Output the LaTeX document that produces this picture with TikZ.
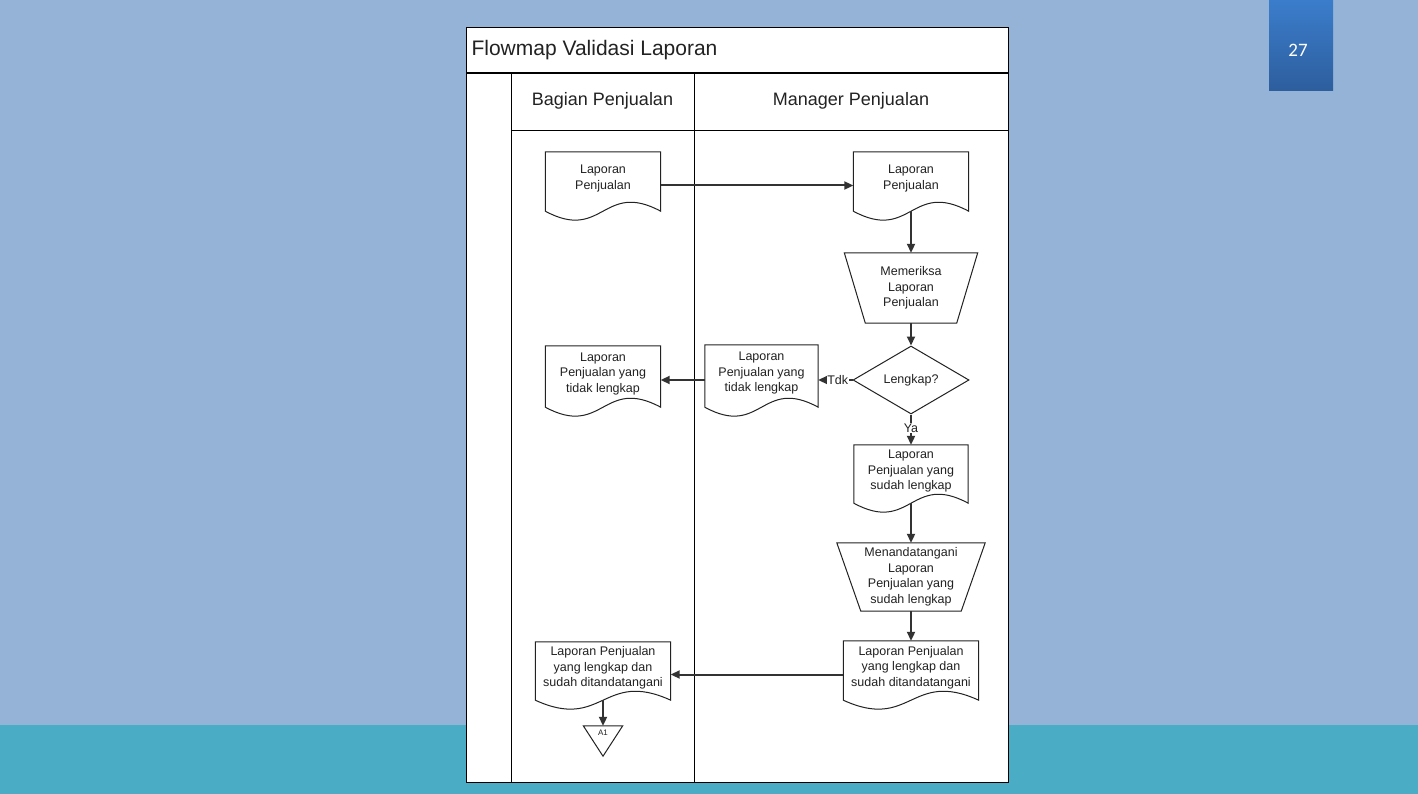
\documentclass[tikz,border=0pt]{standalone}
\usepackage{fontspec}
\setmainfont{Liberation Sans}
\newfontfamily\calib{Carlito}
\usetikzlibrary{shapes.geometric,arrows.meta,calc}
\definecolor{bgblue}{HTML}{95B3D7}
\definecolor{bandteal}{HTML}{4BACC6}
\definecolor{pgtop}{HTML}{3B7DCB}
\definecolor{pgbot}{HTML}{2D5E9E}
\definecolor{ink}{HTML}{222222}
\definecolor{arrowgrey}{HTML}{333333}
\tikzset{
 lane/.style={draw=black, line width=0.9pt},
 shapeline/.style={draw=ink, line width=1pt},
 doctext/.style={align=center, font=\fontsize{12.5}{15.5}\selectfont, text=ink, inner sep=0pt},
 flow/.style={draw=arrowgrey, line width=2pt, -{Triangle[length=9pt,width=8pt]}},
 holder/.style={draw=none, inner sep=0pt},
 lbl/.style={fill=white, inner sep=0.5pt, font=\fontsize{12.5}{15}\selectfont, text=ink}
}
\newcommand\docnode[6]{%
 \node[holder, minimum width=#4, minimum height=#5] (#1) at (#2,{#3+#5/2}) {};
 \draw[shapeline, fill=white] (#1.north west) -- (#1.north east) -- (#1.south east) .. controls ([yshift=31pt]#1.south) and ([yshift=-31pt]#1.south) .. (#1.south west) -- cycle;
 \node[doctext] at ([yshift=3pt]#1.center) {#6};
 \coordinate (#1w) at (#1.south);
}
\newcommand\trapnode[7]{%
 \node[holder, minimum width=#4, minimum height=#5] (#1) at (#2,{#3+#5/2}) {};
 \draw[shapeline, fill=white] (#1.north west) -- (#1.north east) -- ([xshift=-#6pt]#1.south east) -- ([xshift=#6pt]#1.south west) -- cycle;
 \node[doctext] at (#1.center) {#7};
}
\begin{document}
\begin{tikzpicture}[x=1pt,y=-1pt]
\useasboundingbox (0,0) rectangle (1418,794);
\fill[bgblue] (0,0) rectangle (1418,794);
\fill[bandteal] (0,725) rectangle (1418,794);
% page number
\shade[top color=pgtop, bottom color=pgbot] (1269,0) rectangle (1333,91);
\node[font=\calib\fontsize{19}{22}\selectfont, text=white] (pgnum) at (1298,50) {27};
% frame
\draw[lane, fill=white] (466,27) rectangle (1008,782);
\draw[black, line width=1.6pt] (466,73) -- (1008,73);
\draw[lane] (511,130) -- (1008,130);
\draw[lane] (511,73) -- (511,782);
\draw[lane] (694,73) -- (694,782);
\node[anchor=west, font=\fontsize{21}{25}\selectfont, text=ink] (title) at (468,50) {Flowmap Validasi Laporan};
\node[font=\fontsize{18}{22}\selectfont, text=ink] (h1) at (602.5,101) {Bagian Penjualan};
\node[font=\fontsize{18}{22}\selectfont, text=ink] (h2) at (851,101) {Manager Penjualan};
% shapes
\docnode{doc1}{603}{152}{115}{59}{Laporan\\Penjualan}
\docnode{doc2}{911}{152}{115}{59}{Laporan\\Penjualan}
\trapnode{trap1}{911}{253}{133}{70}{21}{Memeriksa\\Laporan\\Penjualan}
\node[diamond, shapeline, fill=white, aspect=1.7, minimum width=116, minimum height=68, doctext] (dia) at (911,380) {Lengkap?};
\docnode{doc3}{761.5}{345}{113}{62}{Laporan\\Penjualan yang\\tidak lengkap}
\docnode{doc4}{603}{346}{115}{61}{Laporan\\Penjualan yang\\tidak lengkap}
\docnode{doc5}{911}{445}{114}{58}{Laporan\\Penjualan yang\\sudah lengkap}
\trapnode{trap2}{911}{543}{148}{68}{24}{Menandatangani\\Laporan\\Penjualan yang\\sudah lengkap}
\docnode{doc6}{911}{641}{135}{59}{Laporan Penjualan\\yang lengkap dan\\sudah ditandatangani}
\docnode{doc7}{603}{642}{135}{58}{Laporan Penjualan\\yang lengkap dan\\sudah ditandatangani}
\node[holder, minimum width=39, minimum height=30] (a1) at (603,741) {};
\draw[shapeline, fill=white] (a1.north west) -- (a1.north east) -- (a1.south) -- cycle;
\node[font=\fontsize{8}{9}\selectfont, text=ink] (a1t) at (603,733) {A1};
% connectors
\draw[flow] ([yshift=-4pt]doc1.east) -- ([yshift=-4pt]doc2.west);
\draw[flow] (doc2w) -- (trap1.north);
\draw[flow] (trap1.south) -- (dia.north);
\draw[flow] (dia.west) -- node[lbl, pos=0.43] {Tdk} (dia.west -| doc3.east);
\draw[flow] (doc3.west |- dia.west) -- (doc4.east |- dia.west);
\draw[flow] (dia.south) -- node[lbl, pos=0.45] {Ya} (doc5.north);
\draw[flow] (doc5w) -- (trap2.north);
\draw[flow] (trap2.south) -- (doc6.north);
\coordinate (c67) at ([yshift=-4pt]doc6.west);
\draw[flow] (c67) -- (c67 -| doc7.east);
\draw[flow] (doc7w) -- (doc7w |- a1.north);
\end{tikzpicture}
\end{document}
